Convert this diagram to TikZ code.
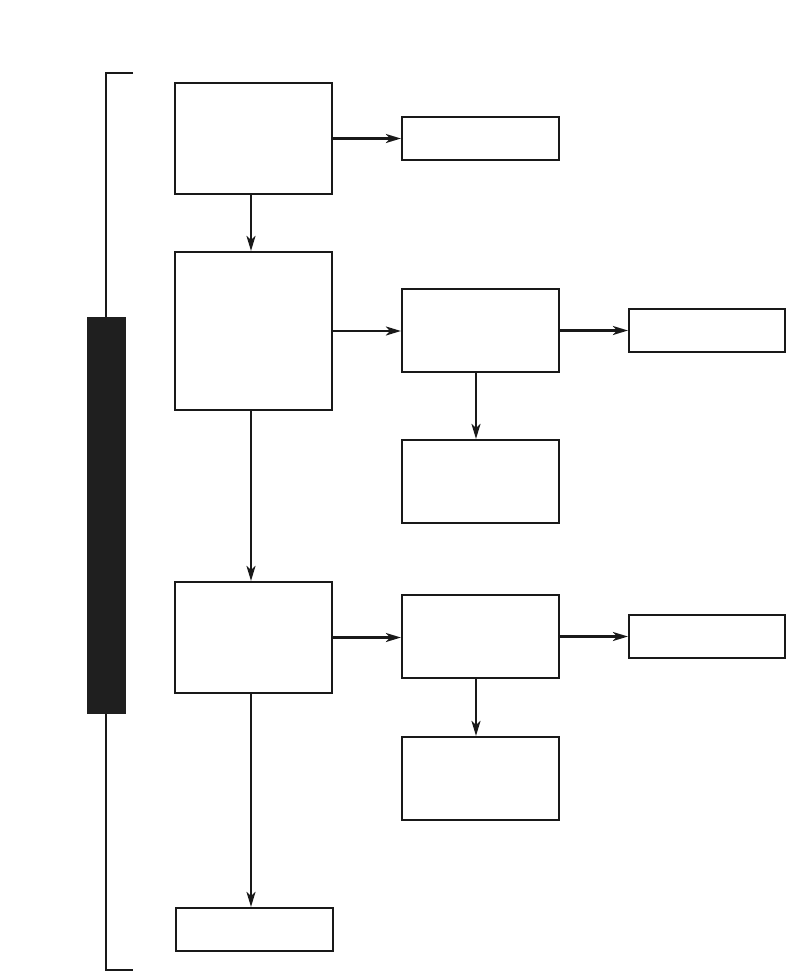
\documentclass[tikz,border=0pt]{standalone}
\usetikzlibrary{arrows.meta}
\begin{document}
\begin{tikzpicture}[x=1pt,y=-1pt,
  blk/.style={draw=black!90, line width=2.2pt, fill=white, inner sep=0pt},
  arr/.style={line width=2.2pt, draw=black!90, -{Stealth[length=15pt,width=9pt,inset=4pt]}}]
\useasboundingbox (0,0) rectangle (786,972);
% bracket
\draw[line width=2.2pt, black!90] (133,73) -- (106,73) -- (106,970) -- (133,970);
\fill[black!88] (87,317) rectangle (126,714);
% boxes
\newcommand{\bx}[5]{\node[blk, minimum width={#4-#2}, minimum height={#5-#3}] (#1) at ({(#2+#4)/2},{(#3+#5)/2}) {};}
\bx{b1}{175}{83}{332}{194}
\bx{b2}{402}{117}{559}{160}
\bx{b3}{175}{252}{332}{410}
\bx{b4}{402}{289}{559}{372}
\bx{b5}{629}{309}{785}{352}
\bx{b6}{402}{440}{559}{523}
\bx{b7}{175}{582}{332}{693}
\bx{b8}{402}{595}{559}{678}
\bx{b9}{629}{615}{785}{658}
\bx{b10}{402}{737}{559}{820}
\bx{b11}{176}{908}{333}{951}
% arrows
\draw[arr] (b1.east) -- (b2.west);
\draw[arr] ([xshift=-2.5pt]b1.south) -- ([xshift=-2.5pt]b3.north);
\draw[arr] (b3.east) -- (b4.west |- b3.east);
\draw[arr] (b4.east) -- (b5.west);
\draw[arr] ([xshift=-4.5pt]b4.south) -- ([xshift=-4.5pt]b6.north);
\draw[arr] ([xshift=-2.5pt]b3.south) -- ([xshift=-2.5pt]b7.north);
\draw[arr] (b7.east) -- (b8.west |- b7.east);
\draw[arr] (b8.east) -- (b9.west);
\draw[arr] ([xshift=-4.5pt]b8.south) -- ([xshift=-4.5pt]b10.north);
\draw[arr] ([xshift=-2.5pt]b7.south) -- ([xshift=-3.5pt]b11.north);
\end{tikzpicture}
\end{document}
